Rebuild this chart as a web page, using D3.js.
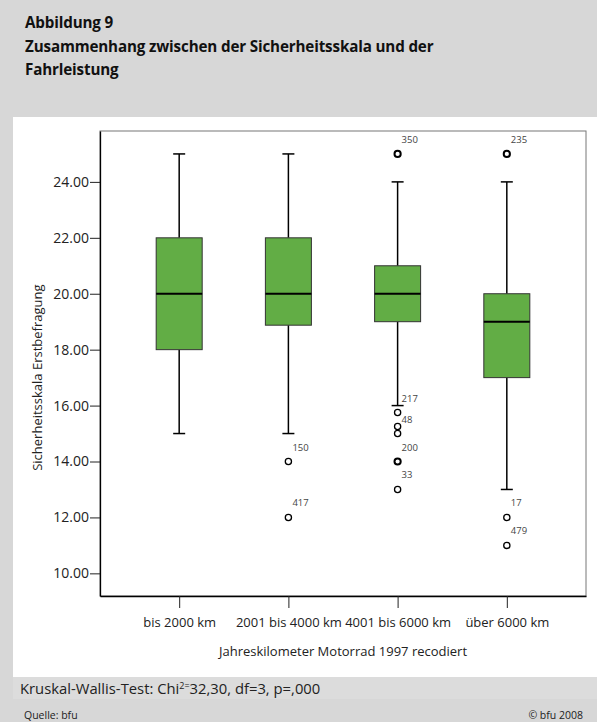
<!DOCTYPE html>
<html>
<head>
<meta charset="utf-8">
<script src="https://cdn.jsdelivr.net/npm/d3@7"></script>
<style>
  body { margin: 0; background: #d7d7d7; }
  svg { display: block; font-family: "Open Sans", sans-serif; }
</style>
</head>
<body>
<script>
var categories = ["bis 2000 km", "2001 bis 4000 km", "4001 bis 6000 km", "über 6000 km"];
var whiskerLow  = [15, 15, 16, 13];
var q1          = [18, 18.875, 19, 17];
var median      = [20, 20, 20, 19];
var q3          = [22, 22, 21, 20];
var whiskerHigh = [25, 25, 24, 24];

// outliers: category index, value, case label, overlapping cases
var outlierCat   = [1, 1, 2, 2, 2, 2, 2, 2, 3, 3, 3];
var outlierValue = [14, 12, 25, 15.75, 15.25, 15, 14, 13, 25, 12, 11];
var outlierLabel = ["150", "417", "350", "217", "", "48", "200", "33", "235", "17", "479"];
var outlierCount = [1, 1, 2, 1, 1, 1, 2, 1, 2, 1, 1];

var yTicks = [10, 12, 14, 16, 18, 20, 22, 24];

var title = ["Abbildung 9", "Zusammenhang zwischen der Sicherheitsskala und der", "Fahrleistung"];

var w = 597,
    h = 722;

var plot = {left: 100, right: 586, top: 131, bottom: 596};

var svg = d3.select("body").append("svg")
    .attr("width", w)
    .attr("height", h);

svg.append("rect").attr("width", w).attr("height", h).attr("fill", "#d7d7d7");
// white chart panel
svg.append("rect").attr("x", 13).attr("y", 117).attr("width", w - 13).attr("height", 560).attr("fill", "#fff");
// statistics band
svg.append("rect").attr("x", 13).attr("y", 677).attr("width", w - 13).attr("height", 22).attr("fill", "#dcdcdc");

svg.append("g").selectAll("text")
    .data(title)
    .enter().append("text")
    .attr("x", 25)
    .attr("y", function (d, i) { return 28 + i * 23.5; })
    .attr("font-size", 15.2)
    .attr("font-weight", "bold")
    .attr("letter-spacing", -0.15)
    .attr("fill", "#111")
    .text(function (d) { return d; });

var x = d3.scalePoint()
    .domain(categories)
    .range([plot.left, plot.right])
    .padding(0.725);

var y = d3.scaleLinear()
    .domain([9.19, 25.82])
    .range([plot.bottom, plot.top]);

// frame (top/right grey)
svg.append("rect")
    .attr("x", plot.left).attr("y", plot.top)
    .attr("width", plot.right - plot.left).attr("height", plot.bottom - plot.top)
    .attr("fill", "none").attr("stroke", "#777").attr("stroke-width", 1);

var yAxis = svg.append("g")
    .attr("transform", "translate(" + plot.left + ",0)")
    .call(d3.axisLeft(y).tickValues(yTicks).tickFormat(d3.format(".2f")).tickSize(10).tickPadding(1).tickSizeOuter(0));
yAxis.selectAll("text").attr("font-size", 14).attr("font-family", "Open Sans").attr("fill", "#222");

var xAxis = svg.append("g")
    .attr("transform", "translate(0," + plot.bottom + ")")
    .call(d3.axisBottom(x).tickSize(12).tickPadding(10).tickSizeOuter(0));
xAxis.selectAll("text").attr("font-size", 13).attr("font-family", "Open Sans").attr("fill", "#222");
svg.selectAll(".domain").attr("stroke", "#000").attr("stroke-width", 1.3);
svg.selectAll(".tick line").attr("stroke", "#222");

svg.append("text")
    .attr("transform", "translate(42," + y(17) + ")rotate(-90)")
    .attr("text-anchor", "middle")
    .attr("font-size", 13)
    .attr("fill", "#222")
    .text("Sicherheitsskala Erstbefragung");

svg.append("text")
    .attr("x", (plot.left + plot.right) / 2)
    .attr("y", 656)
    .attr("text-anchor", "middle")
    .attr("font-size", 13)
    .attr("fill", "#222")
    .text("Jahreskilometer Motorrad 1997 recodiert");

var boxW = 46,
    capW = 12;

var boxes = svg.append("g").selectAll("g")
    .data(categories)
    .enter().append("g");

boxes.each(function (d, i) {
    var g = d3.select(this),
        cx = x(d);
    // whiskers
    g.append("line").attr("x1", cx).attr("x2", cx).attr("y1", y(whiskerHigh[i])).attr("y2", y(q3[i]))
        .attr("stroke", "#000").attr("stroke-width", 1.5);
    g.append("line").attr("x1", cx).attr("x2", cx).attr("y1", y(q1[i])).attr("y2", y(whiskerLow[i]))
        .attr("stroke", "#000").attr("stroke-width", 1.5);
    g.append("line").attr("x1", cx - capW / 2).attr("x2", cx + capW / 2).attr("y1", y(whiskerHigh[i])).attr("y2", y(whiskerHigh[i]))
        .attr("stroke", "#000").attr("stroke-width", 1.5);
    g.append("line").attr("x1", cx - capW / 2).attr("x2", cx + capW / 2).attr("y1", y(whiskerLow[i])).attr("y2", y(whiskerLow[i]))
        .attr("stroke", "#000").attr("stroke-width", 1.5);
    // box
    g.append("rect")
        .attr("x", cx - boxW / 2).attr("y", y(q3[i]))
        .attr("width", boxW).attr("height", y(q1[i]) - y(q3[i]))
        .attr("fill", "#62ad45").attr("stroke", "#333").attr("stroke-width", 1);
    g.append("line").attr("x1", cx - boxW / 2).attr("x2", cx + boxW / 2).attr("y1", y(median[i])).attr("y2", y(median[i]))
        .attr("stroke", "#000").attr("stroke-width", 2);
});

var outl = svg.append("g").selectAll("g")
    .data(outlierValue)
    .enter().append("g");

outl.append("circle")
    .attr("cx", function (d, i) { return x(categories[outlierCat[i]]); })
    .attr("cy", function (d) { return y(d); })
    .attr("r", 3.1)
    .attr("fill", "none")
    .attr("stroke", "#000")
    .attr("stroke-width", function (d, i) { return outlierCount[i] > 1 ? 2 : 1.3; });

outl.append("text")
    .attr("x", function (d, i) { return x(categories[outlierCat[i]]) + 4; })
    .attr("y", function (d) { return y(d) - 11; })
    .attr("font-size", 9.5)
    .attr("fill", "#444")
    .text(function (d, i) { return outlierLabel[i]; });

// footer
var stat = svg.append("text")
    .attr("x", 20).attr("y", 694)
    .attr("font-size", 14.8)
    .attr("fill", "#222");
stat.append("tspan").text("Kruskal-Wallis-Test: Chi");
stat.append("tspan").attr("font-size", 9).attr("dy", -5).text("2=");
stat.append("tspan").attr("dy", 5).text("32,30, df=3, p=,000");

svg.append("text").attr("x", 24).attr("y", 719).attr("font-size", 10.5).attr("fill", "#222").text("Quelle: bfu");
svg.append("text").attr("x", 583).attr("y", 719).attr("text-anchor", "end").attr("font-size", 10.5).attr("fill", "#222").text("© bfu 2008");
</script>
</body>
</html>
